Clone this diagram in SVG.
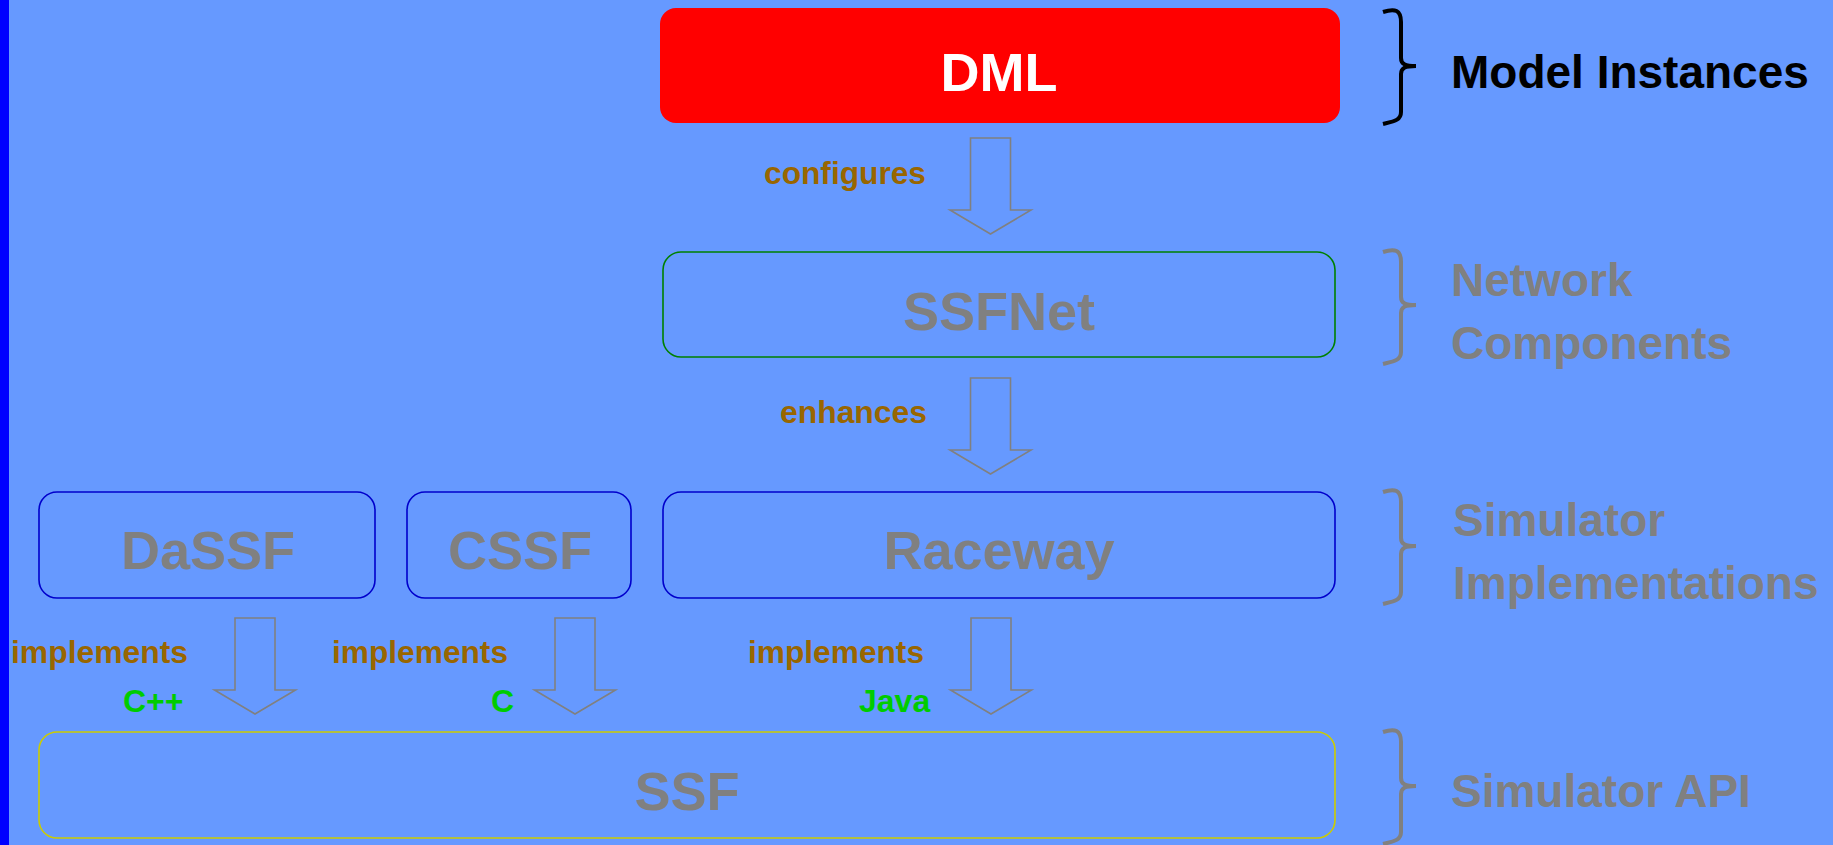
<svg xmlns="http://www.w3.org/2000/svg" xmlns:xlink="http://www.w3.org/1999/xlink" width="1833" height="845" viewBox="0 0 1833 845">
<style>
text{font-family:"Liberation Sans",Arial,sans-serif;font-weight:bold}
.node{font-size:54px;fill:#808080;text-anchor:middle}
.lbl{font-size:32px;fill:#996600}
.lang{font-size:32px;fill:#00CC00}
.layer{font-size:46px;fill:#808080}
.box{fill:none;stroke-width:1.6}
.brace{fill:none;stroke:#808080;stroke-width:4;stroke-linejoin:miter}
.arrow{fill:none;stroke:#808080;stroke-width:1.6}
</style>
<defs>
<path id="bigArrow" class="arrow" d="M-20,0 L20,0 L20,72 L40.5,72 L0,96 L-40.5,72 L-20,72 Z"/>
<path id="braceShape" d="M0,3 C12,0 18,3 18,12 L18,-10 Z"/>
</defs>
<rect width="1833" height="845" fill="#6699FF"/>
<rect x="0" y="0" width="9" height="845" fill="#0000FF"/>

<g id="dml">
<rect x="660" y="8" width="680" height="115" rx="16" fill="#FF0000"/>
<text x="999" y="91" style="font-size:54px;fill:#FFFFFF;text-anchor:middle">DML</text>
</g>
<g id="ssfnet">
<rect class="box" x="663" y="252" width="672" height="105" rx="18" stroke="#008000"/>
<text class="node" x="999" y="330">SSFNet</text>
</g>
<g id="dassf">
<rect class="box" x="39" y="492" width="336" height="106" rx="18" stroke="#0000CC"/>
<text class="node" x="208" y="569">DaSSF</text>
</g>
<g id="cssf">
<rect class="box" x="407" y="492" width="224" height="106" rx="18" stroke="#0000CC"/>
<text class="node" x="520" y="569">CSSF</text>
</g>
<g id="raceway">
<rect class="box" x="663" y="492" width="672" height="106" rx="18" stroke="#0000CC"/>
<text class="node" x="999" y="569">Raceway</text>
</g>
<g id="ssf">
<rect class="box" x="39" y="732" width="1296" height="106" rx="18" stroke="#CCCC00"/>
<text class="node" x="687" y="810">SSF</text>
</g>

<g id="connectors">
<use xlink:href="#bigArrow" transform="translate(990.5,138)"/>
<text class="lbl" x="764" y="184" textLength="162" lengthAdjust="spacingAndGlyphs">configures</text>
<use xlink:href="#bigArrow" transform="translate(990.5,378)"/>
<text class="lbl" x="780" y="423" textLength="147" lengthAdjust="spacingAndGlyphs">enhances</text>
<use xlink:href="#bigArrow" transform="translate(255,618)"/>
<text class="lbl" x="11" y="663" textLength="177" lengthAdjust="spacingAndGlyphs">implements</text>
<text class="lang" x="123" y="712">C++</text>
<use xlink:href="#bigArrow" transform="translate(575,618)"/>
<text class="lbl" x="332" y="663" textLength="176" lengthAdjust="spacingAndGlyphs">implements</text>
<text class="lang" x="491" y="712">C</text>
<use xlink:href="#bigArrow" transform="translate(991,618)"/>
<text class="lbl" x="748" y="663" textLength="176" lengthAdjust="spacingAndGlyphs">implements</text>
<text class="lang" x="859" y="712">Java</text>
</g>

<g id="layer-model">
<path class="brace" style="stroke:#000000" d="M1383,12 C1395,8 1401,10 1401,22 L1401,58 C1401,64 1405,66 1416,66 C1405,66 1401,68 1401,74 L1401,112 C1401,120 1395,121 1383,124"/>
<text x="1451" y="88" style="font-size:46px;fill:#000000">Model Instances</text>
</g>
<g id="layer-network">
<path class="brace" d="M1383,252 C1395,248 1401,250 1401,262 L1401,297 C1401,303 1405,305 1416,305 C1405,305 1401,307 1401,313 L1401,352 C1401,360 1395,361 1383,364"/>
<text class="layer" x="1451" y="296">Network</text>
<text class="layer" x="1451" y="359">Components</text>
</g>
<g id="layer-impl">
<path class="brace" d="M1383,492 C1395,488 1401,490 1401,502 L1401,538 C1401,544 1405,546 1416,546 C1405,546 1401,548 1401,554 L1401,592 C1401,600 1395,601 1383,604"/>
<text class="layer" x="1453" y="536">Simulator</text>
<text class="layer" x="1453" y="599">Implementations</text>
</g>
<g id="layer-api">
<path class="brace" d="M1383,732 C1395,728 1401,730 1401,742 L1401,778 C1401,784 1405,786 1416,786 C1405,786 1401,788 1401,794 L1401,832 C1401,840 1395,841 1383,844"/>
<text class="layer" x="1451" y="807">Simulator API</text>
</g>
</svg>
